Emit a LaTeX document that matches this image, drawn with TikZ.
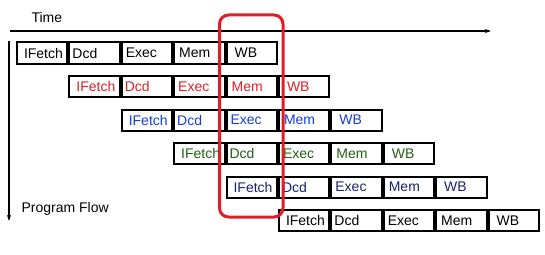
\documentclass[tikz,border=0pt]{standalone}
\usepackage{fontspec}
\setmainfont{Liberation Sans}
\usetikzlibrary{arrows.meta}

\definecolor{pipered}{RGB}{225,30,40}
\definecolor{pipeblue}{RGB}{20,60,215}
\definecolor{pipegreen}{RGB}{35,95,20}
\definecolor{pipenavy}{RGB}{25,35,110}

\tikzset{
    stage/.style={draw, line width=2pt, minimum height=21pt,
        text width=44.4pt, inner xsep=3pt, align=left,
        font=\fontsize{14}{16}\selectfont},
    axis/.style={line width=1.2pt, -{Stealth[length=6pt,width=4pt]}}
}

\begin{document}
\begin{tikzpicture}[x=1pt,y=-1pt]

\useasboundingbox (0,0) rectangle (545,254);

% Axes
\coordinate (t0) at (10,31);
\coordinate (t1) at (491,31);
\coordinate (p0) at (9,41);
\coordinate (p1) at (9,221);
\draw[axis] (t0) -- (t1);
\draw[axis] (p0) -- (p1);
\node[anchor=west, font=\fontsize{14}{16}\selectfont] (time) at (28,17) {Time};
\node[anchor=west, font=\fontsize{14}{16}\selectfont] (flow) at (18,209) {Program Flow};

% Pipeline stages
\foreach \i/\col in {0/black,1/pipered,2/pipeblue,3/pipegreen,4/pipenavy,5/black} {
    \foreach \j/\lbl/\off in {0/IFetch/4pt,1/Dcd/0pt,2/Exec/1pt,3/Mem/2pt,4/WB/5pt} {
        \node[stage, text=\col, anchor=north west] (r\i s\j)
            at ({16+52.4*(\i+\j)},{41.5+33.5*\i}) {\hspace*{\off}\lbl};
    }
}

% Highlight
\draw[pipered, line width=3pt, rounded corners=9pt] (219.5,15) rectangle (283,217);

\end{tikzpicture}
\end{document}
